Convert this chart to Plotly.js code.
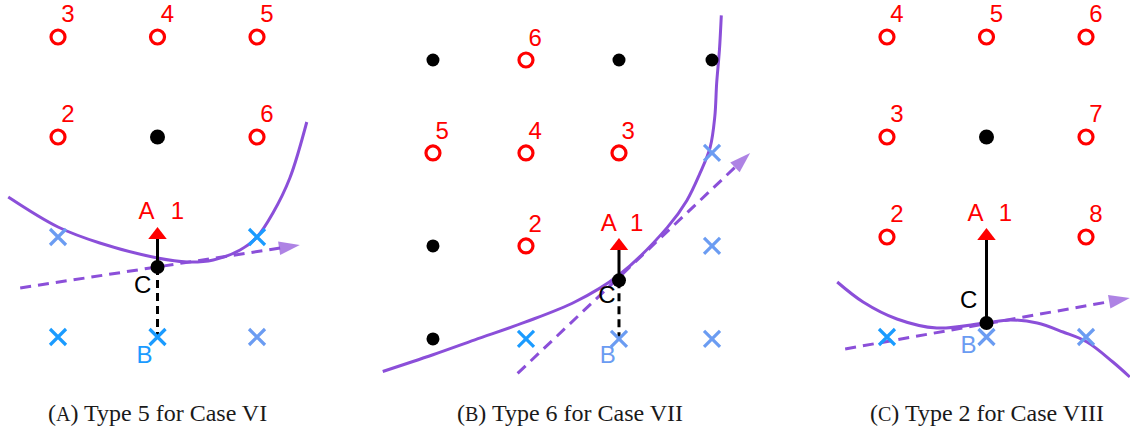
<!DOCTYPE html>
<html><head><meta charset="utf-8">
<script src="https://cdn.plot.ly/plotly-3.0.1.min.js"></script>
<style>html,body{margin:0;padding:0;background:#fff}#chart{width:1130px;height:434px}</style>
</head><body><div id="chart"></div>
<script>
// ---------- Panel A (grid units, column i, row j) ----------
const aCircleX = [0, 1, 2, 0, 2];
const aCircleY = [3, 3, 3, 2, 2];
const aCircleLbl = ['3', '4', '5', '2', '6'];
const aDotX = [1], aDotY = [2];
const aCrossBrightX = [2, 0, 1], aCrossBrightY = [1, 0, 0];
const aCrossLightX = [0, 2], aCrossLightY = [1, 0];
const aPointC = [1, 0.70];
const aPointA = [1, 1.02];
const aPointB = [1, 0];
const aCurveX = [-0.50, 0.00, 0.42, 1.00, 1.30, 1.56, 1.83, 2.00, 2.16, 2.33, 2.50];
const aCurveY = [1.40, 1.10, 0.94, 0.79, 0.75, 0.77, 0.87, 1.00, 1.24, 1.59, 2.15];
const aTangentX = [-0.38, 2.43], aTangentY = [0.49, 0.92];
const aLabelPos = {A: [0.89, 1.24], one: [1.20, 1.24], C: [0.85, 0.50], B: [0.87, -0.20]};

// ---------- Panel B ----------
const bCircleX = [1, 0, 1, 2, 1];
const bCircleY = [3, 2, 2, 2, 1];
const bCircleLbl = ['6', '5', '4', '3', '2'];
const bDotX = [0, 2, 3, 0, 0], bDotY = [3, 3, 3, 1, 0];
const bCrossBrightX = [1], bCrossBrightY = [0];
const bCrossLightX = [3, 3, 2, 3], bCrossLightY = [2, 1, 0, 0];
const bPointC = [2, 0.63];
const bPointA = [2, 1.00];
const bPointB = [2, 0];
const bCurveX = [-0.54, 0.00, 0.45, 0.99, 1.53, 1.99, 2.52, 2.73, 2.87, 2.98, 3.03, 3.05, 3.08, 3.10];
const bCurveY = [-0.35, -0.17, -0.01, 0.18, 0.40, 0.68, 1.20, 1.49, 1.78, 2.06, 2.39, 2.75, 3.11, 3.48];
const bTangentX = [0.91, 3.41], bTangentY = [-0.37, 2.00];
const bLabelPos = {A: [1.89, 1.23], one: [2.19, 1.23], C: [1.87, 0.45], B: [1.88, -0.19]};

// ---------- Panel C ----------
const cCircleX = [0, 1, 2, 0, 2, 0, 2];
const cCircleY = [3, 3, 3, 2, 2, 1, 1];
const cCircleLbl = ['4', '5', '6', '3', '7', '2', '8'];
const cDotX = [1], cDotY = [2];
const cCrossBrightX = [0], cCrossBrightY = [0];
const cCrossLightX = [1, 2], cCrossLightY = [0, 0];
const cPointC = [1, 0.14];
const cPointA = [1, 1.01];
const cPointB = [1, 0];
const cCurveX = [-0.50, -0.24, 0.10, 0.50, 0.98, 1.24, 1.51, 1.77, 2.01, 2.27, 2.44];
const cCurveY = [0.55, 0.35, 0.18, 0.09, 0.14, 0.17, 0.14, 0.05, -0.05, -0.25, -0.40];
const cTangentX = [-0.42, 2.44], cTangentY = [-0.12, 0.39];
const cLabelPos = {A: [0.89, 1.22], one: [1.19, 1.22], C: [0.82, 0.35], B: [0.82, -0.10]};

const captions = ['(<span style="font-size:20px">A</span>) Type 5 for Case VI',
                  '(<span style="font-size:20px">B</span>) Type 6 for Case VII',
                  '(<span style="font-size:20px">C</span>) Type 2 for Case VIII'];

const RED = '#ff0000', BRIGHT = '#1a9bff', LIGHT = '#6b9cf2', PURPLE = '#8b4fd9';
const SANS = 'Liberation Sans, Arial, sans-serif';

function panel(s, d) {
  const xa = 'x' + s, ya = 'y' + s;
  const T = [];
  const base = {xaxis: xa, yaxis: ya, hoverinfo: 'skip', showlegend: false, cliponaxis: false};
  // curve
  T.push(Object.assign({}, base, {x: d.curveX, y: d.curveY, mode: 'lines',
    line: {color: PURPLE, width: 3, shape: 'spline', smoothing: 1}, cliponaxis: true}));
  // tangent dashed with arrowhead
  T.push(Object.assign({}, base, {x: d.tanX, y: d.tanY, mode: 'lines+markers',
    line: {color: PURPLE, width: 3, dash: '11px,7px'},
    marker: {symbol: ['circle', 'arrow'], size: [0, 22], color: PURPLE, angleref: 'previous', line: {width: 0}}}));
  // dashed black C->B
  if (d.showCB) {
    T.push(Object.assign({}, base, {x: [d.C[0], d.B[0]], y: [d.C[1], d.B[1]], mode: 'lines',
      line: {color: '#000', width: 3, dash: '8px,5px'}}));
  }
  // solid black C->A
  T.push(Object.assign({}, base, {x: [d.C[0], d.A[0]], y: [d.C[1], d.A[1]], mode: 'lines',
    line: {color: '#000', width: 3}}));
  // red arrowhead at A
  T.push(Object.assign({}, base, {x: [d.A[0]], y: [d.A[1]], mode: 'markers',
    marker: {symbol: 'triangle-up', size: 16, color: RED, line: {width: 0}}}));
  // crosses
  T.push(Object.assign({}, base, {x: d.cbX, y: d.cbY, mode: 'markers',
    marker: {symbol: 'x-thin-open', size: 16, color: BRIGHT, line: {color: BRIGHT, width: 3.2}}}));
  T.push(Object.assign({}, base, {x: d.clX, y: d.clY, mode: 'markers',
    marker: {symbol: 'x-thin-open', size: 16, color: LIGHT, line: {color: LIGHT, width: 3.2}}}));
  // circles
  T.push(Object.assign({}, base, {x: d.circX, y: d.circY, mode: 'markers',
    marker: {symbol: 'circle-open', size: 14, color: RED, line: {color: RED, width: 3.2}}}));
  // circle labels
  T.push(Object.assign({}, base, {x: d.circX.map(v => v + 0.1), y: d.circY.map(v => v + 0.21),
    mode: 'text', text: d.circL, textposition: 'middle center',
    textfont: {family: SANS, size: 24, color: RED}}));
  // black dots
  T.push(Object.assign({}, base, {x: d.dotX, y: d.dotY, mode: 'markers',
    marker: {symbol: 'circle', size: d.dotSize, color: '#000'}}));
  // C dot
  T.push(Object.assign({}, base, {x: [d.C[0]], y: [d.C[1]], mode: 'markers',
    marker: {symbol: 'circle', size: 14, color: '#000'}}));
  // letters
  const L = d.lbl;
  T.push(Object.assign({}, base, {x: [L.A[0], L.one[0]], y: [L.A[1], L.one[1]], mode: 'text',
    text: ['A', '1'], textposition: 'middle center', textfont: {family: SANS, size: 24, color: RED}}));
  T.push(Object.assign({}, base, {x: [L.C[0]], y: [L.C[1]], mode: 'text',
    text: ['C'], textposition: 'middle center', textfont: {family: SANS, size: 24, color: '#000'}}));
  T.push(Object.assign({}, base, {x: [L.B[0]], y: [L.B[1]], mode: 'text',
    text: ['B'], textposition: 'middle center', textfont: {family: SANS, size: 24, color: d.bColor}}));
  return T;
}

const data = [].concat(
  panel('', {curveX: aCurveX, curveY: aCurveY, tanX: aTangentX, tanY: aTangentY, C: aPointC, A: aPointA, B: aPointB,
    showCB: true, cbX: aCrossBrightX, cbY: aCrossBrightY, clX: aCrossLightX, clY: aCrossLightY,
    circX: aCircleX, circY: aCircleY, circL: aCircleLbl, dotX: aDotX, dotY: aDotY, dotSize: 15, lbl: aLabelPos, bColor: BRIGHT}),
  panel('2', {curveX: bCurveX, curveY: bCurveY, tanX: bTangentX, tanY: bTangentY, C: bPointC, A: bPointA, B: bPointB,
    showCB: true, cbX: bCrossBrightX, cbY: bCrossBrightY, clX: bCrossLightX, clY: bCrossLightY,
    circX: bCircleX, circY: bCircleY, circL: bCircleLbl, dotX: bDotX, dotY: bDotY, dotSize: 13, lbl: bLabelPos, bColor: LIGHT}),
  panel('3', {curveX: cCurveX, curveY: cCurveY, tanX: cTangentX, tanY: cTangentY, C: cPointC, A: cPointA, B: cPointB,
    showCB: false, cbX: cCrossBrightX, cbY: cCrossBrightY, clX: cCrossLightX, clY: cCrossLightY,
    circX: cCircleX, circY: cCircleY, circL: cCircleLbl, dotX: cDotX, dotY: cDotY, dotSize: 15, lbl: cLabelPos, bColor: LIGHT})
);

const W = 1130;
function ax(d0, d1, r0, r1, anchor) {
  return {domain: [d0 / W, d1 / W], range: [r0, r1], visible: false, fixedrange: true, anchor: anchor};
}
function ay(r0, r1, anchor) {
  return {domain: [0, 1], range: [r0, r1], visible: false, fixedrange: true, anchor: anchor};
}

const layout = {
  width: 1130, height: 434,
  margin: {l: 0, r: 0, t: 0, b: 0},
  paper_bgcolor: '#fff', plot_bgcolor: 'rgba(0,0,0,0)',
  xaxis: ax(0, 320, -0.583, 2.633, 'y'),
  yaxis: ay(-0.97, 3.37, 'x'),
  xaxis2: ax(370, 760, -0.677, 3.516, 'y2'),
  yaxis2: ay(-1.022, 3.645, 'x2'),
  xaxis3: ax(820, 1130, -0.673, 2.442, 'y3'),
  yaxis3: ay(-0.97, 3.37, 'x3'),
  annotations: captions.map((t, k) => ({
    xref: 'paper', yref: 'paper', x: [157, 570, 987][k] / W, y: 1 - 413 / 434,
    xanchor: 'center', yanchor: 'middle', showarrow: false, text: t,
    font: {family: 'Liberation Serif, DejaVu Serif, serif', size: 24, color: '#1a1a1a'}
  }))
};

Plotly.newPlot('chart', data, layout, {staticPlot: true, displayModeBar: false});
</script></body></html>
